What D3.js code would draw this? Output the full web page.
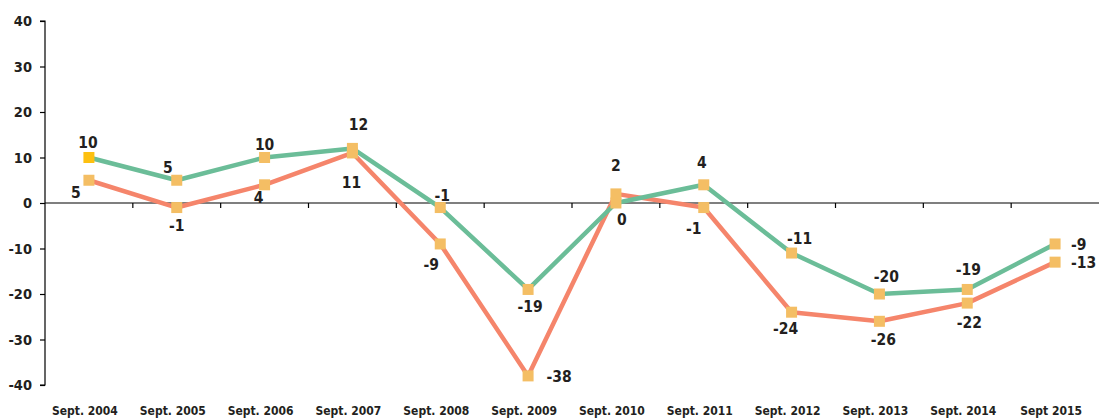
<!DOCTYPE html>
<html>
<head>
<meta charset="utf-8">
<script src="https://cdn.jsdelivr.net/npm/d3@7"></script>
<style>
  html, body { margin: 0; padding: 0; background: #fff; }
  svg { display: block; }
  text { font-family: "DejaVu Sans Condensed", "DejaVu Sans", sans-serif; font-weight: bold; fill: #231f20; }
</style>
</head>
<body>
<svg id="chart" width="1107" height="419"></svg>
<script>
// Survey balance, September readings
const categories = ["Sept. 2004", "Sept. 2005", "Sept. 2006", "Sept. 2007", "Sept. 2008", "Sept. 2009",
                    "Sept. 2010", "Sept. 2011", "Sept. 2012", "Sept. 2013", "Sept. 2014", "Sept 2015"];
const greenValues  = [10, 5, 10, 12, -1, -19, 0, 4, -11, -20, -19, -9];
const orangeValues = [5, -1, 4, 11, -9, -38, 2, -1, -24, -26, -22, -13];
const yTicks = [-40, -30, -20, -10, 0, 10, 20, 30, 40];

const svg = d3.select("#chart");
const plotLeft = 45, plotRight = 1099, plotTop = 21, plotBottom = 385;

const x = d3.scaleBand().domain(categories).range([plotLeft, plotRight]).paddingInner(0).paddingOuter(0);
const y = d3.scaleLinear().domain([-40, 40]).range([plotBottom, plotTop]);
const cx = c => x(c) + x.bandwidth() / 2;

// y axis (plain hyphen for negatives)
const yAxis = svg.append("g")
  .attr("transform", `translate(${plotLeft},0)`)
  .call(d3.axisLeft(y).tickValues(yTicks).tickSize(5).tickPadding(8).tickFormat(d => String(d)));
yAxis.attr("font-family", null).attr("font-size", null);
yAxis.select(".domain").attr("stroke", "#000").attr("stroke-width", 1.2).attr("d", `M-5,${plotTop}H0V${plotBottom}H-5`);
yAxis.selectAll(".tick line").attr("stroke", "#000").attr("stroke-width", 1.2);
yAxis.selectAll(".tick text").attr("font-size", 14.5).attr("fill", "#231f20");

// x axis on the zero line, ticks at category boundaries
const xAxisG = svg.append("g").attr("transform", `translate(0,${y(0)})`);
xAxisG.append("line").attr("x1", plotLeft).attr("x2", plotRight).attr("stroke", "#000").attr("stroke-width", 1.2);
xAxisG.selectAll("line.tk").data(categories.slice(1)).join("line")
  .attr("class", "tk")
  .attr("x1", d => x(d)).attr("x2", d => x(d))
  .attr("y1", 0).attr("y2", 5)
  .attr("stroke", "#000").attr("stroke-width", 1.2);

// category labels along the bottom
svg.append("g").selectAll("text").data(categories).join("text")
  .attr("x", d => cx(d) - 4)
  .attr("y", 415)
  .attr("text-anchor", "middle")
  .attr("font-size", 12)
  .text(d => d);

// series lines
const line = d3.line().x(d => cx(d.c)).y(d => y(d.v));
const series = [
  { values: greenValues, color: "#6bbd98" },
  { values: orangeValues, color: "#f5856b" }
];
// orange drawn first, green on top
[series[1], series[0]].forEach(s => {
  svg.append("path")
    .datum(categories.map((c, i) => ({ c, v: s.values[i] })))
    .attr("fill", "none")
    .attr("stroke", s.color)
    .attr("stroke-width", 4.5)
    .attr("stroke-linejoin", "round")
    .attr("d", line);
});

// square markers
const msize = 11;
[orangeValues, greenValues].forEach((vals, si) => {
  svg.append("g").selectAll("rect").data(vals).join("rect")
    .attr("x", (d, i) => cx(categories[i]) - msize / 2)
    .attr("y", d => y(d) - msize / 2)
    .attr("width", msize).attr("height", msize)
    .attr("fill", (d, i) => (si === 1 && i === 0) ? "#fdc010" : "#f4be64");
});

// value labels: offsets of text anchor from each marker
const lastIdx = categories.length - 1;
const greenLabelOffsets = [[-1,-10],[-9,-7],[0,-8],[6,-18],[2,-7],[2,23],[6,22],[-2,-17],[8,-9],[7,-12],[1,-14],[16,6]];
const orangeLabelOffsets = [[-13,18],[0,23],[-6,18],[-1,35],[-9,26],[31,6],[0,-23],[-10,26],[-6,22],[4,24],[2,25],[16,6]];
function drawLabels(vals, offs) {
  svg.append("g").selectAll("text").data(vals).join("text")
    .attr("x", (d, i) => cx(categories[i]) + offs[i][0])
    .attr("y", (d, i) => y(d) + offs[i][1])
    .attr("text-anchor", (d, i) => i === lastIdx ? "start" : "middle")
    .attr("font-size", 15.5)
    .text(d => d);
}
drawLabels(greenValues, greenLabelOffsets);
drawLabels(orangeValues, orangeLabelOffsets);
</script>
</body>
</html>
